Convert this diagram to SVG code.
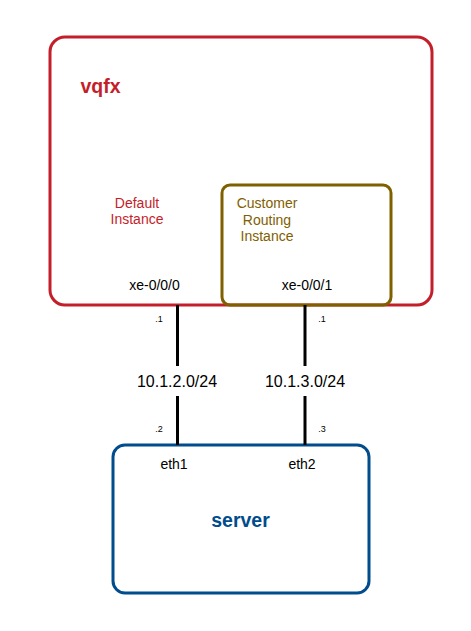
<svg xmlns="http://www.w3.org/2000/svg" width="471" height="631" viewBox="0 0 471 631">
<style>
text{font-family:"Liberation Sans",Arial,sans-serif;text-anchor:middle}
.box{fill:none;stroke-width:3}
.link{stroke:#000;stroke-width:3;fill:none}
.small{font-size:9px;fill:#000}
.ifc{font-size:14px;fill:#000}
.lbl{font-size:14px}
.net{font-size:16px;fill:#000}
.title{font-size:19.5px;font-weight:bold}
</style>
<rect width="471" height="631" fill="#fff"/>
<g id="vqfx">
<rect class="box" x="50" y="37" width="382" height="268" rx="15" stroke="#c41e2a"/>
<text class="title" x="80.5" y="93" fill="#c41e2a" style="text-anchor:start">vqfx</text>
<text class="lbl" x="137" y="208" fill="#c41e2a">Default</text>
<text class="lbl" x="137" y="224" fill="#c41e2a">Instance</text>
<text class="ifc" x="154.5" y="290">xe-0/0/0</text>
</g>
<g id="customer">
<rect class="box" x="222" y="185" width="169" height="120" rx="8" stroke="#7f6000"/>
<text class="lbl" x="267" y="208" fill="#7f6000">Customer</text>
<text class="lbl" x="267" y="225" fill="#7f6000">Routing</text>
<text class="lbl" x="267" y="241" fill="#7f6000">Instance</text>
<text class="ifc" x="307" y="290">xe-0/0/1</text>
</g>
<g id="server">
<rect class="box" x="113" y="445" width="256" height="148" rx="12" stroke="#004c8c"/>
<text class="ifc" x="174" y="469">eth1</text>
<text class="ifc" x="302" y="469">eth2</text>
<text class="title" x="240.5" y="527" fill="#004c8c">server</text>
</g>
<g id="connectors">
<path class="link" d="M177.5 305V366M177.5 396V445"/>
<path class="link" d="M305 305V366M305 396V445"/>
<text class="net" x="177" y="387">10.1.2.0/24</text>
<text class="net" x="305" y="387">10.1.3.0/24</text>
<text class="small" x="159" y="322">.1</text>
<text class="small" x="322" y="322">.1</text>
<text class="small" x="159" y="432">.2</text>
<text class="small" x="322" y="432">.3</text>
</g>
</svg>
